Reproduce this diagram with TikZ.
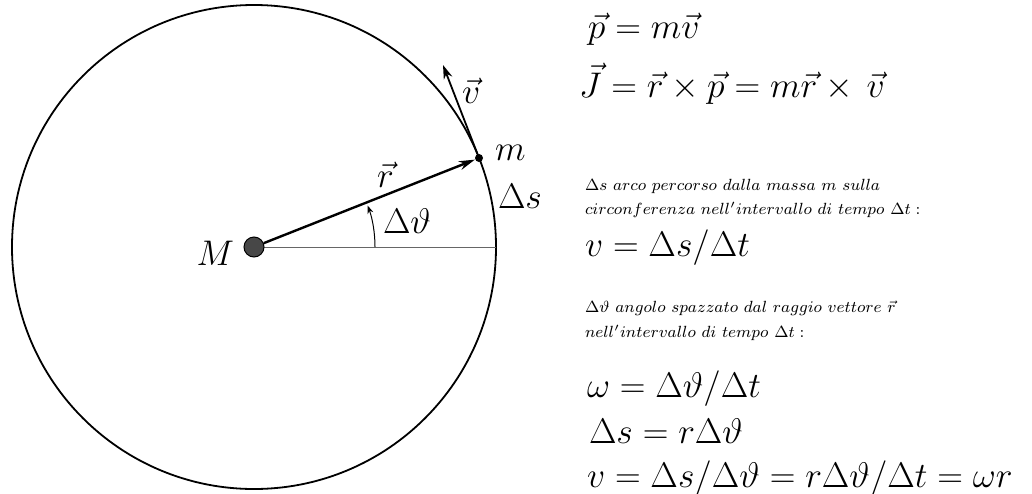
\RequirePackage{fix-cm}
\documentclass[tikz,border=0pt]{standalone}
\usetikzlibrary{arrows.meta}
\begin{document}
\begin{tikzpicture}[x=0.5pt,y=-0.5pt,
  big/.style={font=\fontsize{17.8}{21}\selectfont, inner sep=0pt, outer sep=0pt},
  small/.style={font=\fontsize{8.1}{10}\selectfont, inner sep=0pt, outer sep=0pt}]
\useasboundingbox (0,0) rectangle (1032,493);
\coordinate (C) at (254,247);
\coordinate (E) at (496,247);
\coordinate (mpos) at (479,158);
\coordinate (vtip) at (443,65);
\coordinate (A0) at (375,247);
% circle and radius line
\draw[line width=0.9pt] (C) circle[radius=121pt];
\draw[black!60, line width=0.5pt] (C) -- (E);
% angle arc
\draw[line width=0.5pt, -{Stealth[length=4pt,width=3pt]}] (A0) arc[start angle=0, end angle=20, radius=60.5pt];
% bodies
\node[circle, draw=black, fill=black!72, minimum size=10pt, inner sep=0pt, line width=0.5pt] (Mdot) at (C) {};
\node[circle, fill=black, minimum size=4pt, inner sep=0pt] (mdot) at (mpos) {};
% vectors
\draw[line width=1.2pt, -{Stealth[length=8pt,width=4.5pt]}] (Mdot) -- (mdot);
\draw[line width=0.9pt, -{Stealth[length=7pt,width=4.5pt]}] (mdot) -- (vtip);
% diagram labels
\node[big, anchor=base east] (lM) at (234,265) {$M$};
\node[big, anchor=base west] (lm) at (495,160) {$m$};
\node[big, anchor=base west] (lv) at (462,103) {$\vec{v}$};
\node[big, anchor=base west] (lr) at (377,187) {$\vec{r}$};
\node[big, anchor=base west] (lt) at (383,233) {$\Delta\vartheta$};
\node[big, anchor=base west] (ls) at (498,208) {$\Delta s$};
% equations
\node[big, anchor=base west] (eqp) at (588,38) {$\vec{p} = m\vec{v}$};
\node[big, anchor=base west] (eqJ) at (579,97) {$\vec{J} = \vec{r}\times\vec{p} = m\vec{r}\times\,\vec{v}$};
\node[small, anchor=base west] (s1) at (585,190) {$\Delta s\ arco\ percorso\ dalla\ massa\ m\ sulla$};
\node[small, anchor=base west] (s2) at (585,214) {$circonferenza\ nell'intervallo\ di\ tempo\ \Delta t:$};
\node[big, anchor=base west] (eqv) at (585,256) {$v = \Delta s/\Delta t$};
\node[small, anchor=base west] (s3) at (585,312) {$\Delta\vartheta\ angolo\ spazzato\ dal\ raggio\ vettore\ \vec{r}$};
\node[small, anchor=base west] (s4) at (585,337) {$nell'intervallo\ di\ tempo\ \Delta t:$};
\node[big, anchor=base west] (eqw) at (587,397) {$\omega = \Delta\vartheta/\Delta t$};
\node[big, anchor=base west] (eqs) at (589,443) {$\Delta s = r\Delta\vartheta$};
\node[big, anchor=base west] (eqv2) at (587,487) {$v = \Delta s/\Delta\vartheta = r\Delta\vartheta/\Delta t = \omega r$};
\end{tikzpicture}
\end{document}
